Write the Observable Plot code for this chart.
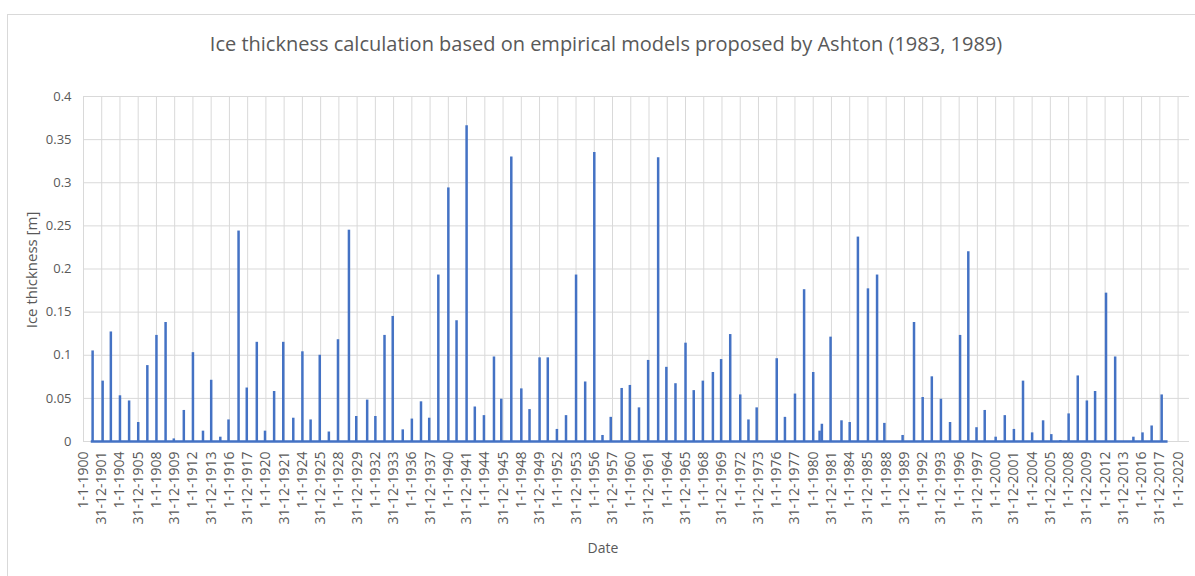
<!DOCTYPE html>
<html>
<head>
<meta charset="utf-8">
<script src="https://cdn.jsdelivr.net/npm/d3@7"></script>
<script src="https://cdn.jsdelivr.net/npm/@observablehq/plot@0.6"></script>
<style>
  body { margin: 0; background: #fff; font-family: "Open Sans", sans-serif; }
  #wrap { position: relative; width: 1195px; height: 576px; overflow: hidden; background: #fff; }
  #border { position: absolute; left: 7px; top: 14px; width: 1300px; height: 700px; border: 1px solid #d9d9d9; box-sizing: border-box; }
  #chart { position: absolute; left: 0; top: 0; }
  #title { position: absolute; left: 0; width: 1212px; top: 30px; text-align: center; font-size: 20px; color: #595959; white-space: nowrap; }
  #ylab { position: absolute; left: 31px; top: 270px; transform: translate(-50%, -50%) rotate(-90deg); font-size: 15px; color: #595959; white-space: nowrap; }
  #xlab { position: absolute; left: 603px; top: 547px; transform: translate(-50%, -50%); font-size: 14px; color: #595959; }
</style>
</head>
<body>
<div id="wrap">
  <div id="border"></div>
  <div id="chart"></div>
  <div id="title">Ice thickness calculation based on empirical models proposed by Ashton (1983, 1989)</div>
  <div id="ylab">Ice thickness [m]</div>
  <div id="xlab">Date</div>
</div>
<script>
const tickLabels = [
  "1-1-1900","31-12-1901","1-1-1904","31-12-1905","1-1-1908","31-12-1909","1-1-1912","31-12-1913",
  "1-1-1916","31-12-1917","1-1-1920","31-12-1921","1-1-1924","31-12-1925","1-1-1928","31-12-1929",
  "1-1-1932","31-12-1933","1-1-1936","31-12-1937","1-1-1940","31-12-1941","1-1-1944","31-12-1945",
  "1-1-1948","31-12-1949","1-1-1952","31-12-1953","1-1-1956","31-12-1957","1-1-1960","31-12-1961",
  "1-1-1964","31-12-1965","1-1-1968","31-12-1969","1-1-1972","31-12-1973","1-1-1976","31-12-1977",
  "1-1-1980","31-12-1981","1-1-1984","31-12-1985","1-1-1988","31-12-1989","1-1-1992","31-12-1993",
  "1-1-1996","31-12-1997","1-1-2000","31-12-2001","1-1-2004","31-12-2005","1-1-2008","31-12-2009",
  "1-1-2012","31-12-2013","1-1-2016","31-12-2017","1-1-2020"
];
const yTicks = [0, 0.05, 0.1, 0.15, 0.2, 0.25, 0.3, 0.35, 0.4];

// winter peak dates (decimal years) and peak ice thickness [m]
const peakYears = [
  1901.0,1902.1,1903.0,1904.0,1905.0,1906.0,1907.0,1908.0,1909.0,1909.9,
  1911.0,1912.0,1913.1,1914.0,1915.0,1915.9,1917.0,1917.9,1919.0,1919.9,
  1920.9,1921.9,1923.0,1924.0,1924.9,1925.9,1926.9,1927.9,1929.1,1929.9,
  1931.1,1932.0,1933.0,1933.9,1935.0,1936.0,1937.0,1937.9,1938.9,1940.0,
  1940.9,1942.0,1942.9,1943.9,1945.0,1945.8,1946.9,1948.0,1948.9,1950.0,
  1950.9,1951.9,1952.9,1954.0,1955.0,1956.0,1956.9,1957.8,1959.0,1959.9,
  1960.9,1961.9,1963.0,1963.9,1964.9,1966.0,1966.9,1967.9,1969.0,1969.9,
  1970.9,1972.0,1972.9,1973.8,1976.0,1976.9,1978.0,1979.0,1980.0,1980.7,
  1980.95,1981.9,1983.1,1984.0,1984.9,1986.0,1987.0,1987.8,1989.8,1991.05,
  1992.0,1993.0,1994.0,1995.0,1996.1,1997.0,1997.9,1998.8,2000.0,2001.0,
  2002.0,2003.0,2004.0,2005.2,2006.1,2007.1,2008.0,2009.0,2010.0,2010.9,
  2012.1,2013.1,2015.1,2016.1,2017.1,2018.2
];
const peakValues = [
  0.105,0.070,0.127,0.053,0.047,0.022,0.088,0.123,0.138,0.003,
  0.036,0.103,0.012,0.071,0.005,0.025,0.244,0.062,0.115,0.012,
  0.058,0.115,0.027,0.104,0.025,0.100,0.011,0.118,0.245,0.029,
  0.048,0.029,0.123,0.145,0.0135,0.026,0.046,0.027,0.193,0.294,
  0.140,0.366,0.040,0.030,0.098,0.049,0.330,0.061,0.037,0.097,
  0.097,0.014,0.030,0.193,0.069,0.335,0.007,0.028,0.0615,0.065,
  0.039,0.094,0.329,0.086,0.067,0.114,0.059,0.070,0.080,0.095,
  0.124,0.054,0.025,0.039,0.096,0.028,0.055,0.176,0.080,0.012,
  0.020,0.121,0.024,0.022,0.237,0.177,0.193,0.021,0.007,0.138,
  0.051,0.075,0.049,0.022,0.123,0.220,0.016,0.036,0.005,0.030,
  0.014,0.070,0.010,0.024,0.008,0.001,0.032,0.076,0.047,0.058,
  0.172,0.098,0.005,0.010,0.018,0.054
];
const seriesStart = 1900.85;
const seriesEnd = 2018.9;
const axisEnd = 2021.25;

function yearToDate(y) {
  const yr = Math.floor(y);
  return new Date(Date.UTC(yr, 0, 1) + (y - yr) * 365.25 * 864e5);
}
function parseLabel(s) {
  const [d, m, y] = s.split("-").map(Number);
  return new Date(Date.UTC(y, m - 1, d));
}
const tickDates = tickLabels.map(parseLabel);
const labelOf = new Map(tickDates.map((d, i) => [+d, tickLabels[i]]));
const peaks = peakYears.map((y, i) => ({date: yearToDate(y), value: peakValues[i]}));
const baseline = [{x1: yearToDate(seriesStart), x2: yearToDate(seriesEnd), y: 0}];

const blue = "#4472C4";
const grid = "#d9d9d9";

const chart = Plot.plot({
  width: 1195,
  height: 576,
  marginLeft: 83,
  marginRight: 6,
  marginTop: 96,
  marginBottom: 135,
  style: {fontFamily: "'Open Sans', sans-serif", background: "transparent", color: "#595959"},
  x: {type: "utc", domain: [parseLabel("1-1-1900"), yearToDate(axisEnd)]},
  y: {domain: [0, 0.4]},
  marks: [
    Plot.gridX(tickDates, {stroke: grid, strokeOpacity: 1, strokeWidth: 1}),
    Plot.gridY(yTicks, {stroke: grid, strokeOpacity: 1, strokeWidth: 1}),
    Plot.axisY(yTicks, {tickSize: 0, tickPadding: 12, fontSize: 13, fill: "#595959", label: null,
      tickFormat: d => String(d)}),
    Plot.axisX(tickDates, {tickSize: 0, tickPadding: 10, tickRotate: -90, fontSize: 14, fill: "#595959",
      label: null, tickFormat: d => labelOf.get(+d)}),
    Plot.ruleY(baseline, {x1: "x1", x2: "x2", y: "y", stroke: blue, strokeWidth: 2.5}),
    Plot.ruleX(peaks, {x: "date", y1: 0, y2: "value", stroke: blue, strokeWidth: 2.5})
  ]
});
document.getElementById("chart").appendChild(chart);
</script>
</body>
</html>
